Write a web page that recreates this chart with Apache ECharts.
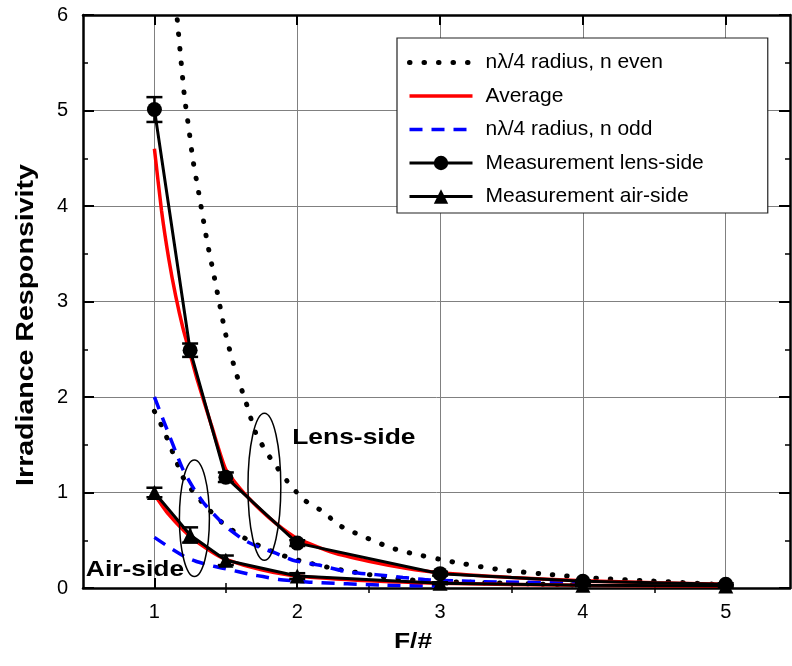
<!DOCTYPE html>
<html><head><meta charset="utf-8">
<script src="https://cdn.jsdelivr.net/npm/echarts@6/dist/echarts.min.js"></script>
<style>html,body{margin:0;padding:0;background:#fff}#c{width:792px;height:666px}</style>
</head><body><div id="c"></div>
<script>
// ---------- data ----------
const xTickValues = [1, 2, 3, 4, 5];
const xHalfTickValues = [1.5, 2.5, 3.5, 4.5];

const fNumbers = [1, 1.25, 1.5, 2, 3, 4, 5];
const lensMeasured = [5.01, 2.49, 1.16, 0.47, 0.15, 0.07, 0.04];
const lensError = [0.13, 0.07, 0.05, 0.03, 0.02, 0.01, 0.01];
const airMeasured = [1.0, 0.555, 0.29, 0.125, 0.05, 0.03, 0.02];
const airError = [0.05, 0.08, 0.05, 0.03, 0.01, 0.01, 0.01];

const avgLensX = [1, 1.05, 1.1, 1.15, 1.2, 1.25, 1.3, 1.4, 1.5, 1.6, 1.7, 1.8, 1.9, 2, 2.25, 2.5, 2.75, 3, 3.5, 4, 4.5, 5];
const avgLensY = [4.6, 3.95, 3.45, 3.05, 2.72, 2.45, 2.18, 1.7, 1.24, 1.04, 0.88, 0.74, 0.62, 0.52, 0.37, 0.28, 0.21, 0.16, 0.11, 0.075, 0.055, 0.04];
const avgAirX = [1, 1.1, 1.25, 1.4, 1.5, 1.75, 2, 2.5, 3, 4, 5];
const avgAirY = [0.98, 0.77, 0.54, 0.38, 0.3, 0.19, 0.125, 0.075, 0.05, 0.028, 0.018];

const evenLensX = [1.16, 1.21, 1.24, 1.27, 1.31, 1.35, 1.37, 1.42, 1.5, 1.57, 1.64, 1.71, 1.79, 1.86, 1.95, 2.05, 2.18, 2.29, 2.4, 2.64, 2.75, 3.1, 3.43, 3.78, 4.12, 4.46, 4.91];
const evenLensY = [5.95, 5.15, 4.82, 4.48, 4.14, 3.79, 3.62, 3.25, 2.65, 2.26, 1.95, 1.62, 1.41, 1.26, 1.08, 0.92, 0.8, 0.66, 0.58, 0.43, 0.38, 0.27, 0.19, 0.14, 0.1, 0.075, 0.04];
const evenAirX = [1, 1.06, 1.15, 1.2, 1.28, 1.37, 1.47, 1.6, 1.75, 1.92, 2.06, 2.27, 2.59, 2.83, 3.2, 3.6, 4.0];
const evenAirY = [1.85, 1.67, 1.34, 1.16, 0.99, 0.84, 0.69, 0.55, 0.43, 0.33, 0.27, 0.2, 0.12, 0.08, 0.06, 0.045, 0.03];

const oddLensX = [1, 1.07, 1.2, 1.28, 1.35, 1.45, 1.52, 1.63, 1.73, 1.84, 1.97, 2.15, 2.35, 2.55, 2.74, 2.93, 3.1, 3.3, 3.6, 4.0];
const oddLensY = [2.0, 1.73, 1.24, 1.03, 0.88, 0.72, 0.62, 0.5, 0.43, 0.37, 0.29, 0.24, 0.17, 0.14, 0.11, 0.085, 0.075, 0.065, 0.06, 0.05];
const oddAirX = [1, 1.1, 1.21, 1.29, 1.38, 1.47, 1.59, 1.68, 1.76, 1.87, 2.1, 2.6, 3.0];
const oddAirY = [0.53, 0.43, 0.33, 0.28, 0.24, 0.21, 0.17, 0.14, 0.12, 0.09, 0.06, 0.03, 0.02];

// annotations (data coordinates)
const ellipseCX = [1.28, 1.77];
const ellipseCY = [0.73, 1.06];
const ellipseRX = [0.105, 0.115];
const ellipseRY = [0.61, 0.77];
const noteText = ['Lens-side', 'Air-side'];
const noteX = [1.965, 0.52];
const noteY = [1.57, 0.19];

const seriesNames = ['nλ/4 radius, n even', 'Average', 'nλ/4 radius, n odd', 'Measurement lens-side', 'Measurement air-side'];

// ---------- build ----------
const FONT = 'Liberation Sans';
const zip = (xs, ys) => xs.map((x, i) => [x, ys[i]]);
const errData = (ys, es) => fNumbers.map((x, i) => [x, ys[i] - es[i], ys[i] + es[i]]);

function errRender(params, api) {
  const x = api.value(0);
  const p1 = api.coord([x, api.value(1)]);
  const p2 = api.coord([x, api.value(2)]);
  const w = 8;
  const st = { stroke: '#000', lineWidth: 2.5 };
  return { type: 'group', children: [
    { type: 'line', shape: { x1: p1[0], y1: p1[1], x2: p2[0], y2: p2[1] }, style: st },
    { type: 'line', shape: { x1: p1[0] - w, y1: p1[1], x2: p1[0] + w, y2: p1[1] }, style: st },
    { type: 'line', shape: { x1: p2[0] - w, y1: p2[1], x2: p2[0] + w, y2: p2[1] }, style: st }
  ]};
}
function ellipseRender(params, api) {
  const c = api.coord([api.value(0), api.value(1)]);
  const s = api.size([api.value(2), api.value(3)]);
  return { type: 'ellipse', shape: { cx: c[0], cy: c[1], rx: s[0], ry: s[1] },
    style: { fill: 'none', stroke: '#000', lineWidth: 1.5 } };
}
function noteRender(params, api) {
  const c = api.coord([api.value(0), api.value(1)]);
  return { type: 'text', x: c[0], y: c[1], scaleX: 1.2,
    style: { text: noteText[params.dataIndex], font: 'bold 22px ' + FONT, fill: '#000', align: 'left', verticalAlign: 'middle' } };
}

const dotted = { color: '#000', width: 5, type: [0.5, 14], cap: 'round' };
const dashed = { color: '#0000ff', width: 3.5, type: [13, 9] };
const redLine = { color: '#ff0000', width: 3.5 };
const blackLine = { color: '#000', width: 3 };

const baseX = { type: 'value', min: 0.5, max: 5.45, gridIndex: 0 };
const option = {
  animation: false,
  backgroundColor: '#fff',
  grid: { left: 83, right: 2, top: 15, bottom: 78, containLabel: false },
  xAxis: [
    Object.assign({}, baseX, { position: 'bottom',
      axisLine: { show: true, onZero: false, lineStyle: { color: '#000', width: 2.5 } },
      axisTick: { show: true, inside: true, length: 10, customValues: xTickValues, lineStyle: { color: '#000', width: 2 } },
      axisLabel: { show: true, customValues: xTickValues, margin: 14, fontSize: 20, color: '#000', fontFamily: FONT },
      splitLine: { show: true, lineStyle: { color: '#808080', width: 1 } } }),
    Object.assign({}, baseX, { position: 'top',
      axisLine: { show: true, onZero: false, lineStyle: { color: '#000', width: 2.5 } },
      axisTick: { show: true, inside: true, length: 10, customValues: xTickValues, lineStyle: { color: '#000', width: 2 } },
      axisLabel: { show: false }, splitLine: { show: false } }),
    Object.assign({}, baseX, { position: 'bottom',
      axisLine: { show: false },
      axisTick: { show: true, inside: true, length: 5, customValues: xHalfTickValues, lineStyle: { color: '#000', width: 1.5 } },
      axisLabel: { show: false }, splitLine: { show: false } }),
    Object.assign({}, baseX, { position: 'top',
      axisLine: { show: false },
      axisTick: { show: true, inside: true, length: 5, customValues: xHalfTickValues, lineStyle: { color: '#000', width: 1.5 } },
      axisLabel: { show: false }, splitLine: { show: false } })
  ],
  yAxis: [
    { type: 'value', min: 0, max: 6, interval: 1, position: 'left',
      axisLine: { show: true, onZero: false, lineStyle: { color: '#000', width: 2.5 } },
      axisTick: { show: true, inside: true, length: 11, lineStyle: { color: '#000', width: 2 } },
      minorTick: { show: true, splitNumber: 2, length: 5, lineStyle: { color: '#000', width: 1.5 } },
      axisLabel: { margin: 15, fontSize: 20, color: '#000', fontFamily: FONT },
      splitLine: { show: true, lineStyle: { color: '#808080', width: 1 } } },
    { type: 'value', min: 0, max: 6, interval: 1, position: 'right',
      axisLine: { show: true, onZero: false, lineStyle: { color: '#000', width: 2.5 } },
      axisTick: { show: true, inside: true, length: 11, lineStyle: { color: '#000', width: 2 } },
      minorTick: { show: true, splitNumber: 2, length: 5, lineStyle: { color: '#000', width: 1.5 } },
      axisLabel: { show: false }, splitLine: { show: false } }
  ],
  legend: {
    data: [
      { name: seriesNames[0], itemStyle: { opacity: 0 }, lineStyle: dotted },
      { name: seriesNames[1], itemStyle: { opacity: 0 }, lineStyle: redLine },
      { name: seriesNames[2], itemStyle: { opacity: 0 }, lineStyle: dashed },
      { name: seriesNames[3], lineStyle: blackLine },
      { name: seriesNames[4], lineStyle: blackLine }
    ],
    orient: 'vertical', left: 397, top: 38,
    padding: [14, 64, 6, 10], itemGap: 12.5, itemWidth: 63, itemHeight: 18,
    backgroundColor: '#fff', borderColor: '#222', borderWidth: 1.2, borderRadius: 0,
    textStyle: { fontSize: 21, color: '#000', fontFamily: FONT, padding: [0, 0, 0, 8] }
  },
  graphic: [
    { type: 'text', x: 27, y: 325, rotation: Math.PI / 2, scaleX: 1.24,
      style: { text: 'Irradiance Responsivity', font: 'bold 23px ' + FONT, fill: '#000', align: 'center', verticalAlign: 'middle' } },
    { type: 'text', x: 413, y: 642, scaleX: 1.2,
      style: { text: 'F/#', font: 'bold 22px ' + FONT, fill: '#000', align: 'center', verticalAlign: 'middle' } }
  ],
  series: [
    { name: seriesNames[0], type: 'line', data: zip(evenLensX, evenLensY), symbol: 'none', smooth: 0.2, lineStyle: dotted, itemStyle: { color: '#000' }, z: 2 },
    { name: seriesNames[0], type: 'line', data: zip(evenAirX, evenAirY), symbol: 'none', smooth: 0.2, lineStyle: dotted, itemStyle: { color: '#000' }, z: 2 },
    { name: seriesNames[1], type: 'line', data: zip(avgLensX, avgLensY), symbol: 'none', smooth: 0.2, lineStyle: redLine, itemStyle: { color: '#ff0000' }, z: 3 },
    { name: seriesNames[1], type: 'line', data: zip(avgAirX, avgAirY), symbol: 'none', smooth: 0.2, lineStyle: redLine, itemStyle: { color: '#ff0000' }, z: 3 },
    { name: seriesNames[2], type: 'line', data: zip(oddLensX, oddLensY), symbol: 'none', smooth: 0.2, lineStyle: dashed, itemStyle: { color: '#0000ff' }, z: 2 },
    { name: seriesNames[2], type: 'line', data: zip(oddAirX, oddAirY), symbol: 'none', smooth: 0.2, lineStyle: dashed, itemStyle: { color: '#0000ff' }, z: 2 },
    { name: seriesNames[3], type: 'line', data: zip(fNumbers, lensMeasured), symbol: 'circle', symbolSize: 15, lineStyle: blackLine, itemStyle: { color: '#000' }, z: 5 },
    { name: seriesNames[4], type: 'line', data: zip(fNumbers, airMeasured), symbol: 'triangle', symbolSize: 15, lineStyle: blackLine, itemStyle: { color: '#000' }, z: 5 },
    { name: 'lensErr', type: 'custom', data: errData(lensMeasured, lensError), renderItem: errRender, encode: { x: 0, y: [1, 2] }, z: 6 },
    { name: 'airErr', type: 'custom', data: errData(airMeasured, airError), renderItem: errRender, encode: { x: 0, y: [1, 2] }, z: 6 },
    { name: 'ellipses', type: 'custom', data: ellipseCX.map((x, i) => [x, ellipseCY[i], ellipseRX[i], ellipseRY[i]]), renderItem: ellipseRender, encode: { x: 0, y: 1 }, z: 7 },
    { name: 'notes', type: 'custom', data: noteX.map((x, i) => [x, noteY[i]]), renderItem: noteRender, encode: { x: 0, y: 1 }, z: 8, clip: false }
  ]
};
const chart = echarts.init(document.getElementById('c'), null, { renderer: 'canvas' });
chart.setOption(option);
</script></body></html>
